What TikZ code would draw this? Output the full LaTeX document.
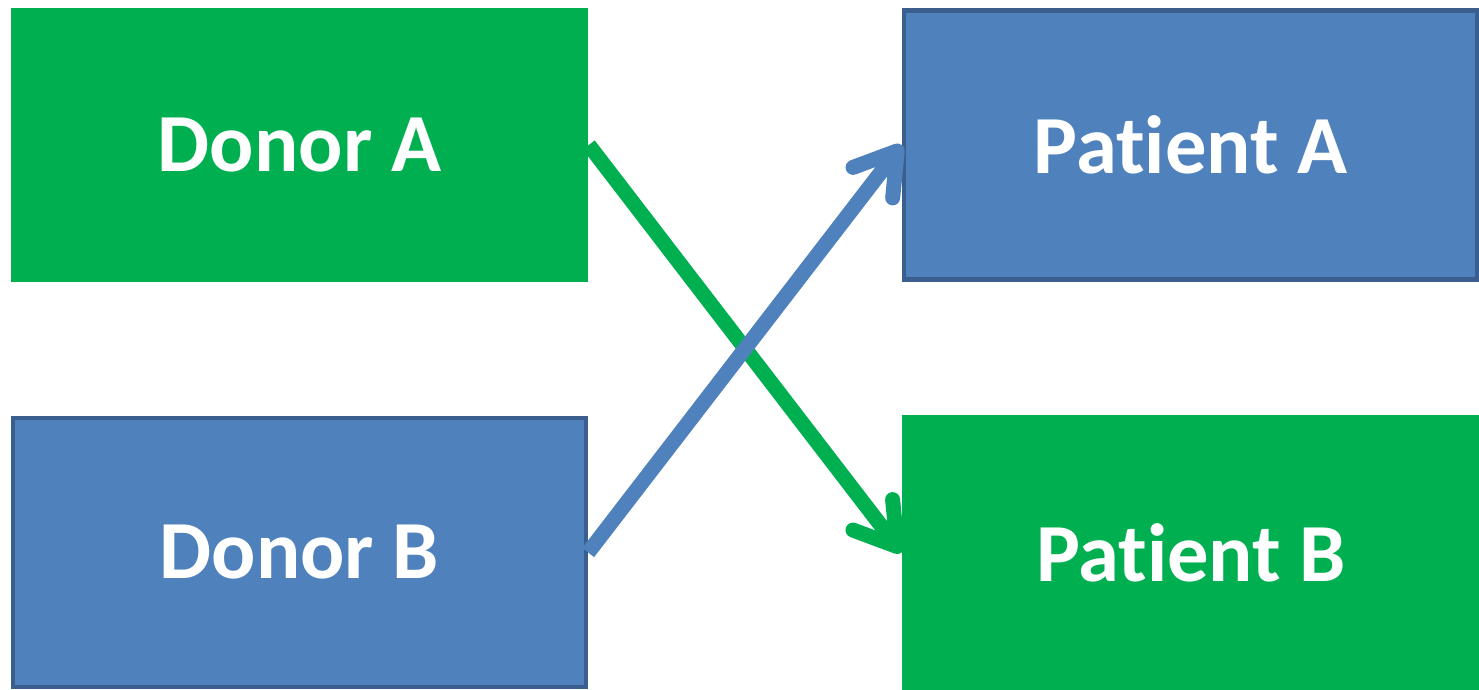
\documentclass[tikz,border=0pt]{standalone}
\usepackage{fontspec}
\setmainfont{Carlito}[Ligatures=NoCommon]
\usepackage{xcolor}
\usepackage{tikz}
\usetikzlibrary{arrows.meta}

\definecolor{boxgreen}{HTML}{00B050}
\definecolor{boxblue}{HTML}{4F81BD}
\definecolor{bluedark}{HTML}{3A5F8E}

\begin{document}
\begin{tikzpicture} [x=0.02cm, y=-0.02cm,
					    greenbox/.style = {fill=boxgreen,
					    inner sep=0pt,
					    minimum width = 11.56cm,
					    minimum height = 5.5cm,
					    text = white,
					    font = \fontsize{47}{56}\selectfont\bfseries},
					    bluebox/.style = {greenbox,
					    fill=boxblue,
					    draw=bluedark,
					    line width = 0.09cm,
					    minimum width = 11.46cm,
					    minimum height = 5.38cm},
					    link/.style = {line width = 0.3cm,
					    -{Straight Barb[length=0.8cm, width=1cm, line cap=round, line join=round]}}]
					 
					\useasboundingbox (0,0) rectangle (1479,689);
					\node (DA) at (299.5,145) [greenbox] {Donor A};
					\node (DB) at (299.5,552.5) [bluebox] {Donor B};
					\node (PA) at (1190.5,145) [bluebox] {Patient A};
					\node (PB) at (1191,552.5) [greenbox] {Patient B};
					\draw [link, boxgreen] (DA.east) -- (PB.west);
					\draw [link, boxblue] (DB.east) -- (PA.west);
				\end{tikzpicture}
\end{document}
